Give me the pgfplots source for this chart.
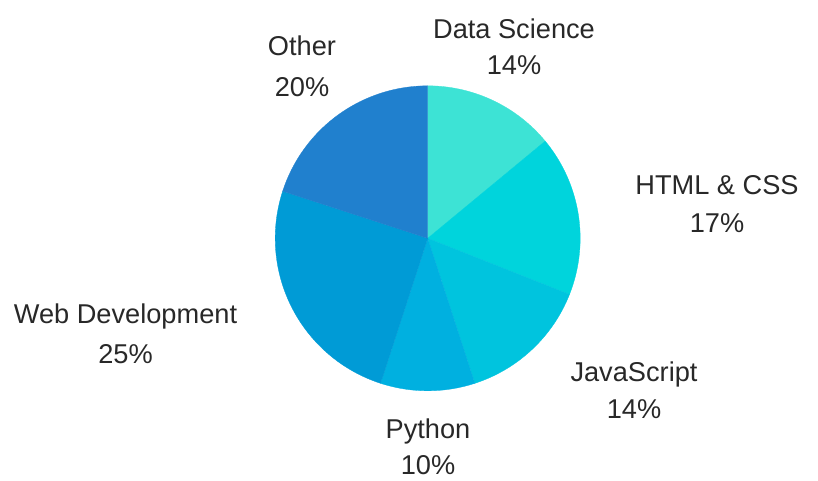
\documentclass[border=0pt]{standalone}
\usepackage{pgfplots}
\pgfplotsset{compat=1.18}
\usepackage{fontspec}
\setmainfont{Liberation Sans}
\definecolor{cDS}{RGB}{61,227,213}
\definecolor{cHT}{RGB}{0,212,220}
\definecolor{cJS}{RGB}{0,196,222}
\definecolor{cPY}{RGB}{0,176,224}
\definecolor{cWD}{RGB}{0,155,214}
\definecolor{cOT}{RGB}{32,128,206}
\definecolor{txt}{RGB}{40,40,40}
\tikzset{lbl/.style={anchor=base, font=\fontsize{27.2}{31}\selectfont, text=txt, inner sep=0pt}}
% slice percentages (cumulative start:end), clockwise from 12 o'clock
% Data Science 14, HTML & CSS 17, JavaScript 14, Python 10, Web Development 25, Other 20
\newcommand{\cx}{427.7}
\newcommand{\cy}{241.7}
\newcommand{\rr}{152.5}
\begin{document}
\begin{tikzpicture}
\begin{axis}[
  width=818pt, height=480pt, scale only axis,
  xmin=0, xmax=818, ymin=0, ymax=480,
  axis lines=none, ticks=none, clip=false,
]
\path (rel axis cs:0,0) rectangle (rel axis cs:1,1);
\addplot[fill=cDS, draw=cDS, line width=0.3pt, domain=0:14, samples=40, variable=\t]
  ({\cx+\rr*cos(90-3.6*\t)},{\cy+\rr*sin(90-3.6*\t)}) -- (axis cs:\cx,\cy) -- cycle;
\addplot[fill=cHT, draw=cHT, line width=0.3pt, domain=14:31, samples=40, variable=\t]
  ({\cx+\rr*cos(90-3.6*\t)},{\cy+\rr*sin(90-3.6*\t)}) -- (axis cs:\cx,\cy) -- cycle;
\addplot[fill=cJS, draw=cJS, line width=0.3pt, domain=31:45, samples=40, variable=\t]
  ({\cx+\rr*cos(90-3.6*\t)},{\cy+\rr*sin(90-3.6*\t)}) -- (axis cs:\cx,\cy) -- cycle;
\addplot[fill=cPY, draw=cPY, line width=0.3pt, domain=45:55, samples=40, variable=\t]
  ({\cx+\rr*cos(90-3.6*\t)},{\cy+\rr*sin(90-3.6*\t)}) -- (axis cs:\cx,\cy) -- cycle;
\addplot[fill=cWD, draw=cWD, line width=0.3pt, domain=55:80, samples=60, variable=\t]
  ({\cx+\rr*cos(90-3.6*\t)},{\cy+\rr*sin(90-3.6*\t)}) -- (axis cs:\cx,\cy) -- cycle;
\addplot[fill=cOT, draw=cOT, line width=0.3pt, domain=80:100, samples=50, variable=\t]
  ({\cx+\rr*cos(90-3.6*\t)},{\cy+\rr*sin(90-3.6*\t)}) -- (axis cs:\cx,\cy) -- cycle;

\node[lbl] at (axis cs:514,441.7) {Data Science};
\node[lbl] at (axis cs:514,405) {14\%};
\node[lbl] at (axis cs:717,285.7) {HTML \& CSS};
\node[lbl] at (axis cs:717,247.3) {17\%};
\node[lbl] at (axis cs:634,98.3) {JavaScript};
\node[lbl] at (axis cs:634,61.7) {14\%};
\node[lbl] at (axis cs:428,41.7) {Python};
\node[lbl] at (axis cs:428,5.5) {10\%};
\node[lbl] at (axis cs:125.5,156.7) {Web Development};
\node[lbl] at (axis cs:125.5,117) {25\%};
\node[lbl] at (axis cs:302,424.3) {Other};
\node[lbl] at (axis cs:302,383.3) {20\%};
\end{axis}
\end{tikzpicture}
\end{document}
